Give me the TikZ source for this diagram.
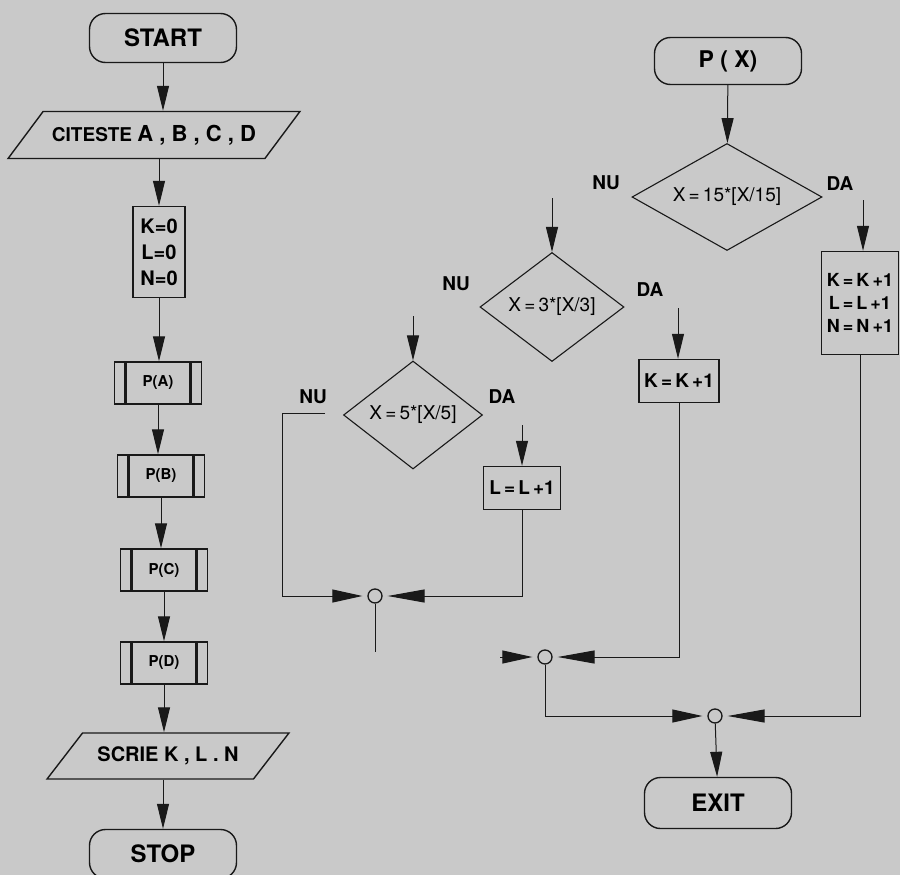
\documentclass[tikz,border=0pt]{standalone}
\usepackage{fontspec}
\setmainfont{TeX Gyre Heros}
\usetikzlibrary{arrows.meta,shapes.geometric}
\definecolor{flowpaper}{rgb}{0.79,0.79,0.79}
\definecolor{flowink}{rgb}{0.1,0.1,0.1}
\tikzset{
  flowline/.style={draw=flowink,line width=1pt},
  flowarrow/.style={flowline,-{Triangle[length=25pt,width=12pt]}},
  joinin/.style={flowline,-{Triangle[length=30pt,width=13pt]},shorten >=5pt},
  joininr/.style={flowline,-{Triangle[length=37pt,width=13pt]},shorten >=5pt},
  terminal/.style={draw=flowink,line width=1.4pt,rounded corners=16pt,minimum width=147pt,minimum height=49pt,inner sep=0pt,font=\fontsize{24}{28}\selectfont\bfseries},
  iobox/.style={draw=flowink,line width=1.4pt,trapezium,trapezium left angle=32,trapezium right angle=148,trapezium stretches=true,inner sep=0pt},
  procbox/.style={draw=flowink,line width=1.4pt,rectangle,inner sep=0pt,align=center},
  callbox/.style={procbox,minimum width=87pt,minimum height=42pt,font=\fontsize{15}{18}\selectfont\bfseries,
    path picture={\draw[flowink,line width=2.6pt] ([xshift=11pt]path picture bounding box.north west) -- ([xshift=11pt]path picture bounding box.south west) ([xshift=-11pt]path picture bounding box.north east) -- ([xshift=-11pt]path picture bounding box.south east);}},
  testbox/.style={draw=flowink,line width=1.1pt,diamond,aspect=1.3,inner sep=0pt,font=\fontsize{19}{22}\selectfont},
  branch/.style={font=\fontsize{19}{22}\selectfont\bfseries},
  joint/.style={draw=flowink,line width=1.3pt,circle,minimum size=14pt,inner sep=0pt,fill=flowpaper}
}

\begin{document}
\begin{tikzpicture}[x=1pt,y=-1pt]
\useasboundingbox (0,0) rectangle (900,875);
\fill[flowpaper] (0,0) rectangle (900,875);
\node[terminal] (start) at (163,38) {START};
\node[iobox,minimum width=292pt,minimum height=47pt] (read) at (154,135) {\fontsize{19}{22}\selectfont\bfseries CITESTE \fontsize{22}{22}\selectfont A , B , C , D};
\node[procbox,minimum width=52pt,minimum height=91pt,font=\fontsize{20}{26}\selectfont\bfseries] (init) at (159,252) {K=0\\L=0\\N=0};
\node[callbox] (pa) at (158,383) {P(A)};
\node[callbox] (pb) at (161,476) {P(B)};
\node[callbox] (pc) at (164,570) {P(C)};
\node[callbox] (pd) at (164,663) {P(D)};
\node[iobox,minimum width=242pt,minimum height=46pt,font=\fontsize{20}{22}\selectfont\bfseries] (write) at (168,756) {SCRIE K , L . N};
\node[terminal] (stop) at (163,854) {STOP};
\draw[flowarrow] (start) -- (start |- read.north);
\draw[flowarrow] (read.south -| init) -- (init);
\draw[flowarrow] (init) -- (init |- pa.north);
\draw[flowarrow] (pa) -- (pa |- pb.north);
\draw[flowarrow] (pb) -- (pb |- pc.north);
\draw[flowarrow] (pc) -- (pd);
\draw[flowarrow] (pd) -- (pd |- write.north);
\draw[flowarrow] (write.south -| stop) -- (stop);

\node[terminal,minimum height=47pt,font=\fontsize{23}{26}\selectfont\bfseries] (px) at (728,61) {P ( X)};
\node[testbox,minimum width=190pt,minimum height=107pt] (d15) at (727,197) {X\,=\,15*[X/15]};
\node[testbox,minimum width=144pt,minimum height=109pt] (d3) at (552,307) {X\,=\,3*[X/3]};
\node[testbox,minimum width=139pt,minimum height=108pt] (d5) at (413,415) {X\,=\,5*[X/5]};
\node[branch] (nu15) at (606,183) {NU};
\node[branch] (da15) at (840,184) {DA};
\node[branch] (nu3) at (456,284) {NU};
\node[branch] (da3) at (650,290) {DA};
\node[branch] (nu5) at (313,397) {NU};
\node[branch] (da5) at (502,397) {DA};
\node[procbox,minimum width=77pt,minimum height=103pt,font=\fontsize{18}{23}\selectfont\bfseries] (inc3) at (860,303) {K\,=\,K\,+1\\L\,=\,L\,+1\\N\,=\,N\,+1};
\node[procbox,minimum width=80pt,minimum height=43pt,font=\fontsize{19}{22}\selectfont\bfseries] (inck) at (679,381) {K\,=\,K\,+1};
\node[procbox,minimum width=77pt,minimum height=43pt,font=\fontsize{19}{22}\selectfont\bfseries] (incl) at (522,488) {L\,=\,L\,+1};
\node[joint] (j5) at (375,596) {};
\node[joint] (j3) at (545,657) {};
\node[joint] (j15) at (715,716) {};
\node[terminal,minimum height=51pt] (exit) at (718,803) {EXIT};
\coordinate (nu15end) at (552,198);
\coordinate (da15end) at (863,200);
\coordinate (nu3end) at (413,316);
\coordinate (da3end) at (678,308);
\coordinate (nu5end) at (325,413);
\coordinate (nu5turn) at (282,413);
\coordinate (da5end) at (522,425);
\coordinate (j5out) at (375,652);
\coordinate (j3in) at (500,657);
\draw[flowarrow] (px) -- (d15);
\draw[flowarrow] (nu15end) -- (d3);
\draw[flowarrow] (da15end) -- (da15end |- inc3.north);
\draw[flowarrow] (nu3end) -- (d5);
\draw[flowarrow] (da3end) -- (da3end |- inck.north);
\draw[flowarrow] (da5end) -- (incl);
\draw[joinin] (nu5end) -- (nu5turn) |- (j5);
\draw[joininr] (incl) |- (j5);
\draw[flowline] (j5) -- (j5out);
\draw[joinin] (j3in) -- (j3);
\draw[joininr] (inck) |- (j3);
\draw[joinin] (j3) |- (j15);
\draw[joininr] (inc3) |- (j15);
\draw[flowarrow] (j15) -- (exit);
\end{tikzpicture}
\end{document}
